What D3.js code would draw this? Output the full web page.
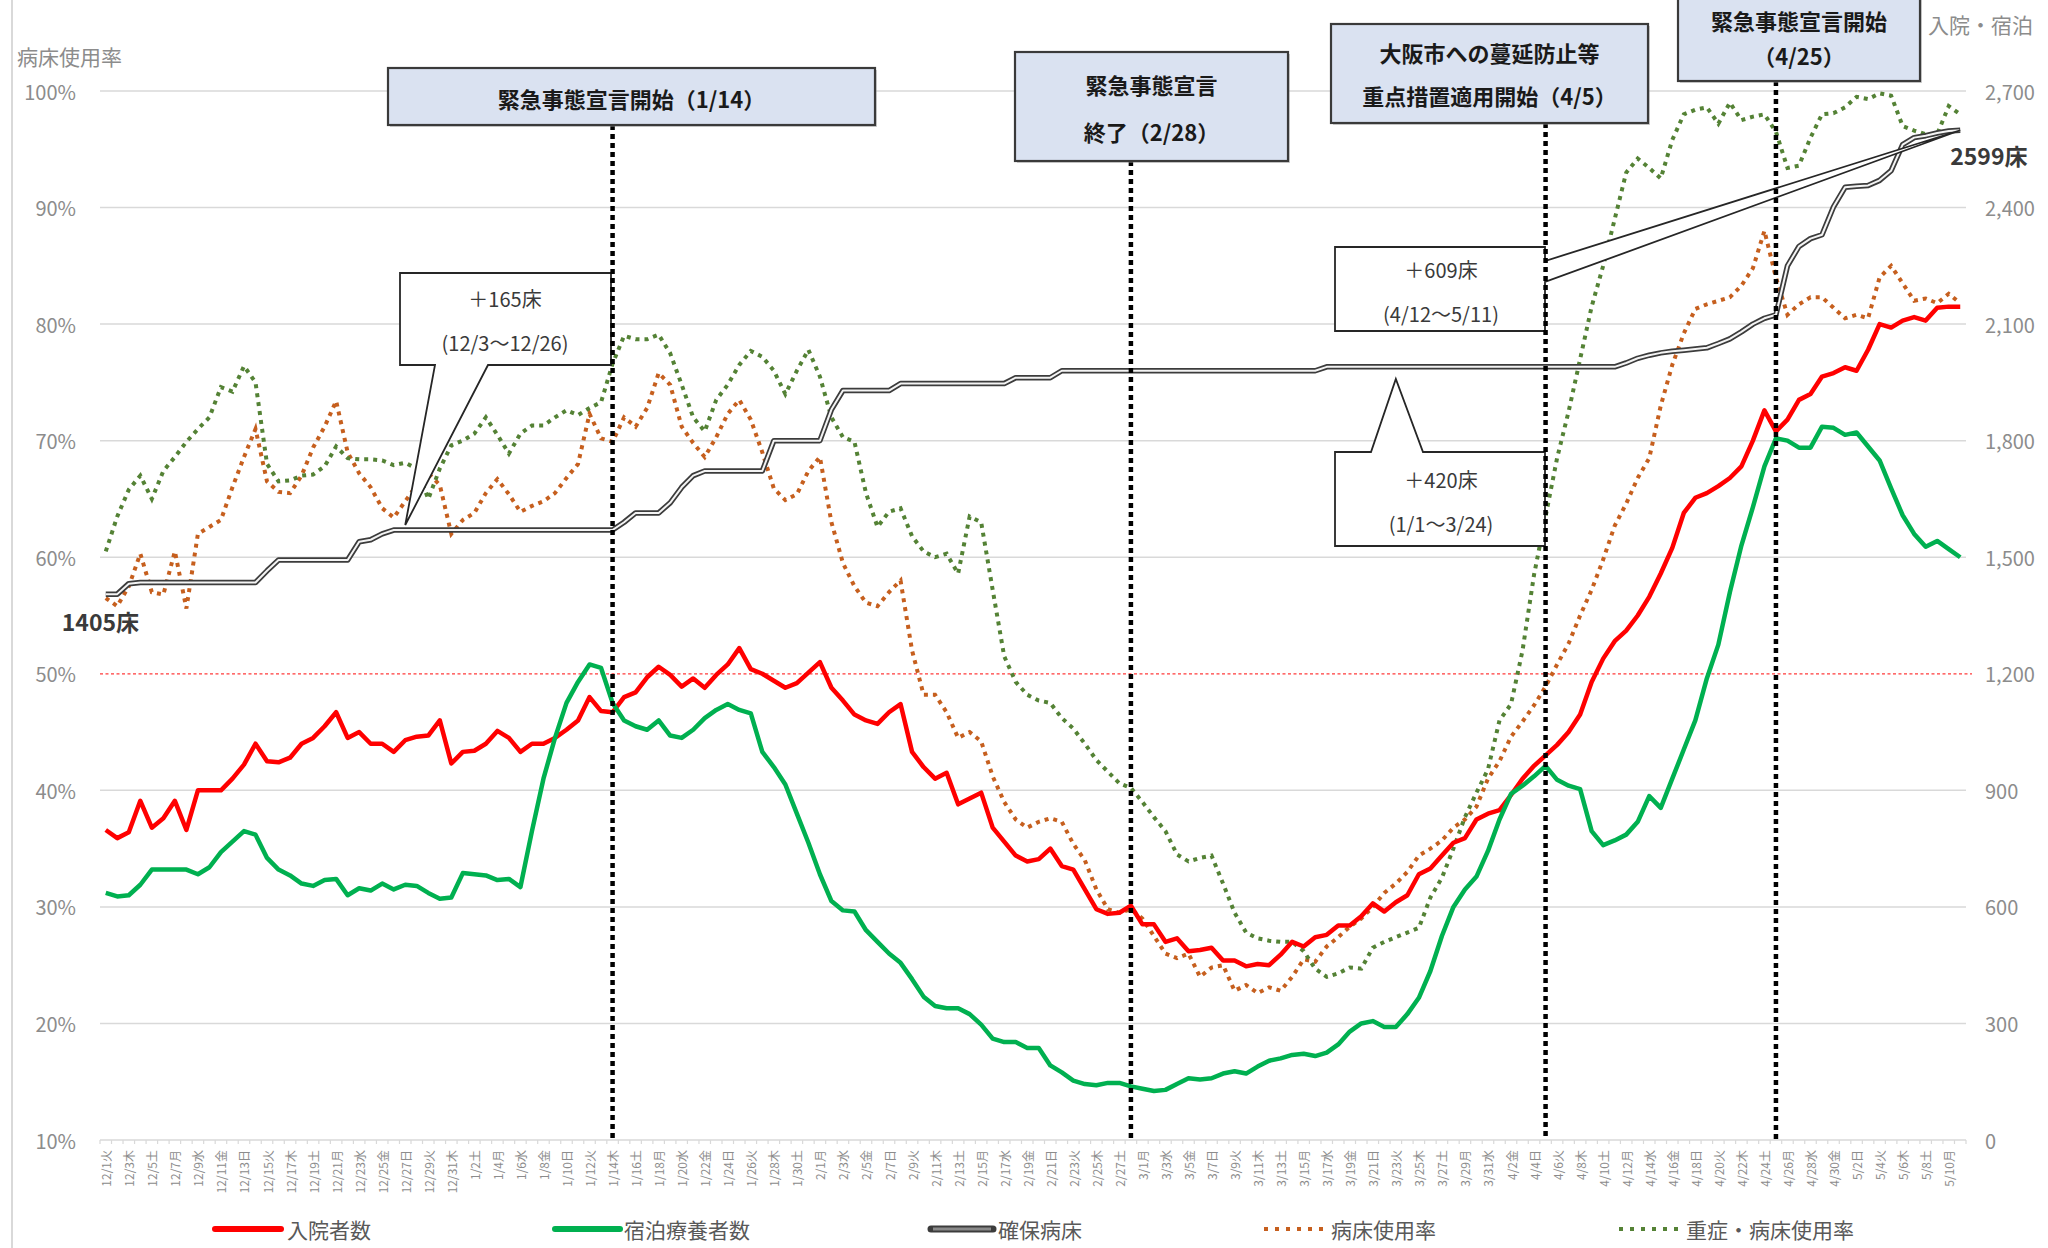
<!DOCTYPE html>
<html>
<head>
<meta charset="utf-8">
<script src="https://cdn.jsdelivr.net/npm/d3@7"></script>
<style>
  html, body { margin: 0; padding: 0; background: #ffffff; }
  svg { display: block; font-family: "Noto Sans CJK JP", "Noto Sans", sans-serif; }
</style>
</head>
<body>
<svg id="chart" width="2048" height="1248"></svg>
<script>
// ---- data -------------------------------------------------------------

// category axis labels (every other day)
const tickLabels = [
  "12/1火","12/3木","12/5土","12/7月","12/9水","12/11金","12/13日","12/15火","12/17木","12/19土",
  "12/21月","12/23水","12/25金","12/27日","12/29火","12/31木",
  "1/2土","1/4月","1/6水","1/8金","1/10日","1/12火","1/14木","1/16土","1/18月","1/20水",
  "1/22金","1/24日","1/26火","1/28木","1/30土",
  "2/1月","2/3水","2/5金","2/7日","2/9火","2/11木","2/13土","2/15月","2/17水","2/19金",
  "2/21日","2/23火","2/25木","2/27土",
  "3/1月","3/3水","3/5金","3/7日","3/9火","3/11木","3/13土","3/15月","3/17水","3/19金",
  "3/21日","3/23火","3/25木","3/27土","3/29月","3/31水",
  "4/2金","4/4日","4/6火","4/8木","4/10土","4/12月","4/14水","4/16金","4/18日","4/20火",
  "4/22木","4/24土","4/26月","4/28水","4/30金",
  "5/2日","5/4火","5/6木","5/8土","5/10月"
];

// 入院者数 (right axis, persons)
const inpatients = [
  798, 777, 792, 873, 804, 828, 873, 798, 900, 900,
  900, 930, 966,1020, 975, 972, 984,1020,1035,1065,
 1101,1035,1050,1020,1020, 999,1029,1038,1041,1080,
  969, 999,1002,1020,1053,1035, 999,1020,1020,1035,
 1056,1080,1140,1104,1101,1140,1152,1191,1218,1197,
 1167,1188,1164,1197,1224,1266,1212,1200,1182,1164,
 1176,1203,1230,1164,1131,1095,1080,1071,1101,1122,
  999, 960, 930, 945, 864, 879, 894, 804, 768, 732,
  717, 723, 750, 705, 696, 645, 594, 582, 585, 603,
  555, 555, 510, 519, 486, 489, 495, 462, 462, 447,
  453, 450, 477, 510, 498, 522, 528, 552, 552, 576,
  609, 588, 612, 630, 684, 699, 732, 765, 777, 825,
  840, 849, 888, 930, 963, 990,1017,1050,1095,1179,
 1239,1284,1311,1350,1398,1458,1524,1614,1653,1665,
 1683,1704,1734,1800,1878,1824,1854,1905,1920,1965,
 1974,1989,1980,2034,2100,2091,2109,2118,2109,2142,
 2145,2145
];

// 宿泊療養者数 (right axis, persons)
const hotelCare = [
  636, 627, 630, 657, 696, 696, 696, 696, 684, 702,
  741, 768, 795, 786, 726, 696, 681, 660, 654, 669,
  672, 630, 648, 642, 660, 645, 657, 654, 636, 621,
  624, 687, 684, 681, 669, 672, 651, 795, 930,1035,
 1125,1179,1224,1215,1125,1080,1065,1056,1080,1041,
 1035,1056,1086,1107,1122,1107,1098, 999, 960, 915,
  840, 765, 684, 615, 591, 588, 540, 510, 480, 456,
  414, 369, 345, 339, 339, 324, 297, 261, 252, 252,
  237, 237, 192, 174, 153, 144, 141, 147, 147, 138,
  132, 126, 129, 144, 159, 156, 159, 171, 177, 171,
  189, 204, 210, 219, 222, 216, 225, 246, 279, 300,
  306, 291, 291, 324, 366, 435, 525, 600, 645, 678,
  744, 825, 891, 912, 936, 963, 927, 912, 903, 795,
  759, 771, 786, 819, 885, 855, 930,1005,1080,1188,
 1275,1410,1530,1629,1734,1806,1800,1782,1782,1836,
 1833,1815,1821,1785,1749,1677,1608,1560,1527,1542,
 1521,1500
];

// 確保病床 (right axis, beds)
const securedBeds = [
 1405,1405,1432,1435,1435,1435,1435,1435,1435,1435,
 1435,1435,1435,1435,1465,1493,1493,1493,1493,1493,
 1493,1493,1540,1545,1560,1570,1570,1570,1570,1570,
 1570,1570,1570,1570,1570,1570,1570,1570,1570,1570,
 1570,1570,1570,1570,1570,1590,1614,1614,1614,1640,
 1680,1710,1722,1722,1722,1722,1722,1722,1800,1800,
 1800,1800,1800,1880,1929,1929,1929,1929,1929,1947,
 1947,1947,1947,1947,1947,1947,1947,1947,1947,1962,
 1962,1962,1962,1980,1980,1980,1980,1980,1980,1980,
 1980,1980,1980,1980,1980,1980,1980,1980,1980,1980,
 1980,1980,1980,1980,1980,1980,1990,1990,1990,1990,
 1990,1990,1990,1990,1990,1990,1990,1990,1990,1990,
 1990,1990,1990,1990,1990,1990,1990,1990,1990,1990,
 1990,1990,2000,2012,2020,2026,2030,2033,2036,2039,
 2050,2062,2080,2100,2115,2124,2250,2300,2320,2330,
 2402,2452,2455,2457,2470,2495,2562,2580,2585,2592,
 2597,2599
];

// 病床使用率 (left axis, %)
const bedOccupancy = [
 56.5,55.8,57.5,60.3,57.0,56.8,60.5,55.6,62.0,62.6,
 63.2,66.0,68.6,71.0,66.5,65.6,65.5,67.0,69.4,71.2,
 73.4,69.0,67.2,66.0,64.2,63.4,64.8,66.2,67.2,66.2,
 62.0,63.2,63.8,65.5,66.7,65.4,63.9,64.4,64.8,65.5,
 66.8,68.0,72.3,70.2,69.9,72.0,71.2,72.8,75.8,74.8,
 71.2,69.8,68.6,70.3,72.3,73.5,71.8,69.0,65.9,64.9,
 65.4,67.4,68.6,63.0,59.5,57.5,56.1,55.8,57.0,58.0,
 52.0,48.2,48.2,46.7,44.5,45.0,44.2,41.2,39.0,37.5,
 36.8,37.3,37.6,37.3,35.4,34.0,31.5,29.8,29.5,29.8,
 29.0,27.5,26.0,25.6,26.0,24.0,24.8,25.0,22.8,23.3,
 22.6,23.1,22.8,24.0,25.5,25.3,26.6,27.4,28.3,29.0,
 30.0,31.2,32.0,33.0,34.4,35.0,35.7,36.8,37.5,38.6,
 41.0,42.5,44.6,45.9,47.3,48.9,50.8,52.6,55.0,57.2,
 59.8,62.7,64.6,66.8,68.5,73.0,76.5,79.2,81.3,81.7,
 82.0,82.3,83.3,84.8,88.0,84.0,80.8,81.7,82.3,82.3,
 81.4,80.5,80.8,80.5,84.0,85.0,83.5,82.0,82.2,81.8,
 82.6,81.8
];

// 重症・病床使用率 (left axis, %)
const severeOccupancy = [
 60.5,63.5,65.8,67.0,65.0,67.4,68.6,69.9,71.0,72.0,
 74.6,74.2,76.4,75.0,68.0,66.5,66.6,67.0,67.1,67.8,
 69.5,68.5,68.4,68.4,68.3,67.9,68.1,67.6,65.0,67.6,
 69.6,70.0,70.6,72.0,70.5,68.9,70.6,71.3,71.3,72.0,
 72.6,72.2,72.8,73.3,76.6,79.0,78.7,78.7,79.1,77.5,
 74.8,72.0,70.8,73.5,74.8,76.5,77.7,77.2,76.0,74.0,
 76.0,77.8,75.5,72.0,70.3,69.9,65.5,62.6,63.9,64.2,
 61.8,60.5,60.0,60.3,58.6,63.5,63.0,57.2,51.5,49.3,
 48.2,47.7,47.5,46.2,45.3,44.0,42.6,41.6,40.6,40.2,
 39.0,37.7,36.5,34.5,33.9,34.2,34.4,32.0,29.5,27.8,
 27.3,27.1,27.0,27.0,26.2,24.7,24.0,24.3,24.8,24.7,
 26.5,27.0,27.4,27.8,28.2,30.8,32.5,35.0,37.7,39.8,
 41.8,46.0,47.4,52.0,58.5,63.5,68.5,72.5,77.0,81.5,
 85.0,89.0,93.0,94.2,93.4,92.5,95.8,98.0,98.4,98.6,
 97.2,99.0,97.5,97.8,98.0,96.5,93.4,93.6,96.0,98.0,
 98.1,98.6,99.5,99.3,99.8,99.6,97.0,96.6,96.3,96.3,
 98.7,98.0
];

const leftTicks  = [10, 20, 30, 40, 50, 60, 70, 80, 90, 100];
const rightTicks = [0, 300, 600, 900, 1200, 1500, 1800, 2100, 2400, 2700];

const eventDates  = ["1/14", "2/28", "4/5", "4/25"];
const eventLabels = [
  ["緊急事態宣言開始（1/14）"],
  ["緊急事態宣言", "終了（2/28）"],
  ["大阪市への蔓延防止等", "重点措置適用開始（4/5）"],
  ["緊急事態宣言開始", "（4/25）"]
];

// periods of bed additions: [first day, last day]
const bedPeriods = [["12/3", "12/26"], ["1/1", "3/24"], ["4/12", "5/11"]];

const legendNames = ["入院者数", "宿泊療養者数", "確保病床", "病床使用率", "重症・病床使用率"];
const axisTitles  = ["病床使用率", "入院・宿泊"];

// ---- categories: consecutive days from 2020/12/1 -----------------------
const firstDay = new Date(2020, 11, 1);
const categories = d3.range(inpatients.length).map(i => {
  const d = d3.timeDay.offset(firstDay, i);
  return (d.getMonth() + 1) + "/" + d.getDate();
});
const idx = s => categories.indexOf(s);

// ---- layout ------------------------------------------------------------
const svg = d3.select("#chart");
const plot = { left: 100, right: 1966, top: 91, bottom: 1140 };

const x = d3.scaleBand().domain(d3.range(categories.length)).range([plot.left, plot.right]);
const xc = i => x(i) + x.bandwidth() / 2;
const yL = d3.scaleLinear().domain([10, 100]).range([plot.bottom, plot.top]);
const yR = d3.scaleLinear().domain([0, 2700]).range([plot.bottom, plot.top]);

const GRID = "#d9d9d9", AXISTXT = "#8c8c8c";

// chart area edge
svg.append("line").attr("x1", 12).attr("x2", 12).attr("y1", 0).attr("y2", 1248)
  .attr("stroke", "#d9d9d9").attr("stroke-width", 2);

// gridlines
svg.append("g").selectAll("line")
  .data(leftTicks.filter(t => t !== 10 && t !== 50))
  .join("line")
  .attr("x1", plot.left).attr("x2", plot.right)
  .attr("y1", d => yL(d)).attr("y2", d => yL(d))
  .attr("stroke", GRID).attr("stroke-width", 1.5);

// category axis line with ticks
svg.append("line").attr("x1", plot.left).attr("x2", plot.right)
  .attr("y1", plot.bottom).attr("y2", plot.bottom)
  .attr("stroke", GRID).attr("stroke-width", 1.5);
svg.append("g").selectAll("line")
  .data(d3.range(categories.length + 1))
  .join("line")
  .attr("x1", d => plot.left + d * x.step()).attr("x2", d => plot.left + d * x.step())
  .attr("y1", plot.bottom).attr("y2", plot.bottom + 4)
  .attr("stroke", GRID).attr("stroke-width", 1.2);

// 50% reference line
svg.append("line").attr("x1", plot.left).attr("x2", 1972)
  .attr("y1", yL(50)).attr("y2", yL(50))
  .attr("stroke", "#ff3b3b").attr("stroke-width", 1.2).attr("stroke-dasharray", "3 2.5");

// left axis labels
svg.append("g").selectAll("text").data(leftTicks).join("text")
  .attr("x", 76).attr("y", d => yL(d))
  .attr("text-anchor", "end").attr("dominant-baseline", "central")
  .attr("font-size", 20).attr("fill", AXISTXT)
  .text(d => d + "%");

// right axis labels
svg.append("g").selectAll("text").data(rightTicks).join("text")
  .attr("x", 1985).attr("y", d => yR(d))
  .attr("text-anchor", "start").attr("dominant-baseline", "central")
  .attr("font-size", 20).attr("fill", AXISTXT)
  .text(d => d3.format(",")(d));

// axis titles
svg.append("text").attr("x", 17).attr("y", 56).attr("dominant-baseline", "central")
  .attr("font-size", 21).attr("fill", AXISTXT).text(axisTitles[0]);
svg.append("text").attr("x", 1928).attr("y", 24).attr("dominant-baseline", "central")
  .attr("font-size", 21).attr("fill", AXISTXT).text(axisTitles[1]);

// category labels (rotated)
svg.append("g").selectAll("text").data(tickLabels).join("text")
  .attr("transform", d => {
    const i = idx(d.slice(0, -1));
    return `translate(${xc(i)},${plot.bottom + 10}) rotate(-90)`;
  })
  .attr("text-anchor", "end").attr("dominant-baseline", "central")
  .attr("font-size", 12).attr("fill", AXISTXT)
  .text(d => d);

// ---- series ------------------------------------------------------------
const lineL = d3.line().x((d, i) => xc(i)).y(d => yL(d));
const lineR = d3.line().x((d, i) => xc(i)).y(d => yR(d));

const BROWN = "#c65f1e", OLIVE = "#548235", RED = "#ff0000", GREEN = "#00b050";

svg.append("path").datum(bedOccupancy).attr("d", lineL)
  .attr("fill", "none").attr("stroke", BROWN).attr("stroke-width", 4)
  .attr("stroke-dasharray", "4 5");
svg.append("path").datum(severeOccupancy).attr("d", lineL)
  .attr("fill", "none").attr("stroke", OLIVE).attr("stroke-width", 4)
  .attr("stroke-dasharray", "4 5");

svg.append("path").datum(inpatients).attr("d", lineR)
  .attr("fill", "none").attr("stroke", RED).attr("stroke-width", 4.5)
  .attr("stroke-linejoin", "round");
svg.append("path").datum(hotelCare).attr("d", lineR)
  .attr("fill", "none").attr("stroke", GREEN).attr("stroke-width", 4.5)
  .attr("stroke-linejoin", "round");

// secured beds: double line
svg.append("path").datum(securedBeds).attr("d", lineR)
  .attr("fill", "none").attr("stroke", "#3c3c3c").attr("stroke-width", 5.5)
  .attr("stroke-linejoin", "round");
svg.append("path").datum(securedBeds).attr("d", lineR)
  .attr("fill", "none").attr("stroke", "#f4f4f4").attr("stroke-width", 2)
  .attr("stroke-linejoin", "round");

// first / last secured-bed values
const nLast = securedBeds.length - 1;
svg.append("text").attr("x", xc(0) - 44).attr("y", yR(securedBeds[0]) + 27)
  .attr("dominant-baseline", "central").attr("font-size", 23).attr("font-weight", 600)
  .attr("fill", "#3a3a3a").text(securedBeds[0] + "床");
svg.append("text").attr("x", xc(nLast) - 10).attr("y", yR(securedBeds[nLast]) + 25)
  .attr("dominant-baseline", "central").attr("font-size", 23).attr("font-weight", 600)
  .attr("fill", "#3a3a3a").text(securedBeds[nLast] + "床");

// ---- bed-addition callouts ----------------------------------------------
const bedGain = bedPeriods.map(([a, b]) => securedBeds[idx(b)] - securedBeds[idx(a) - 1]);

function callout(pathD, cx, cy, lines) {
  const g = svg.append("g");
  g.append("path").attr("d", pathD).attr("fill", "#ffffff")
    .attr("stroke", "#262626").attr("stroke-width", 1.8).attr("stroke-linejoin", "miter");
  lines.forEach((t, k) => {
    g.append("text").attr("x", cx).attr("y", cy + k * 44)
      .attr("text-anchor", "middle").attr("dominant-baseline", "central")
      .attr("font-size", 20).attr("fill", "#3a3a3a").text(t);
  });
}
const label = (k) => ["＋" + bedGain[k] + "床", "(" + bedPeriods[k][0] + "～" + bedPeriods[k][1] + ")"];

// 12/3～12/26: pointer from bottom edge down to the line
{
  const tx = xc(26), ty = yR(securedBeds[26]) - 5;
  callout(`M400,273 H611 V365 H488 L${tx},${ty} L435,365 H400 Z`, 505, 298, label(0));
}
// 4/12～5/11: long wedge from right edge to the line end
{
  const tx = xc(nLast), ty = yR(securedBeds[nLast]);
  callout(`M1335,247 H1545 V261 L${tx},${ty} L1545,282 V331 H1335 Z`, 1441, 269, label(2));
}
// 1/1～3/24: pointer from top edge up to the line
{
  const tx = xc(112), ty = yR(securedBeds[112]) + 12;
  callout(`M1335,452 H1371 L${tx},${ty} L1423,452 H1545 V546 H1335 Z`, 1441, 479, label(1));
}

// ---- event markers --------------------------------------------------------
const boxes = [
  { x0: 388,  x1: 875,  y0: 68,  y1: 125, ty: [98] },
  { x0: 1015, x1: 1288, y0: 52,  y1: 161, ty: [84, 131] },
  { x0: 1331, x1: 1648, y0: 24,  y1: 123, ty: [52, 95] },
  { x0: 1678, x1: 1920, y0: -10, y1: 81,  ty: [20, 55] }
];

eventDates.forEach((d, k) => {
  const b = boxes[k];
  const xe = xc(idx(d));
  svg.append("line").attr("x1", xe).attr("x2", xe).attr("y1", b.y1).attr("y2", plot.bottom)
    .attr("stroke", "#000").attr("stroke-width", 4.5).attr("stroke-dasharray", "5 4");
  svg.append("rect").attr("x", b.x0 + 2).attr("y", b.y0 + 2)
    .attr("width", b.x1 - b.x0).attr("height", b.y1 - b.y0)
    .attr("fill", "#9a9a9a").attr("opacity", 0.45);
  svg.append("rect").attr("x", b.x0).attr("y", b.y0)
    .attr("width", b.x1 - b.x0).attr("height", b.y1 - b.y0)
    .attr("fill", "#dae2f1").attr("stroke", "#3a3a3a").attr("stroke-width", 2.2);
  eventLabels[k].forEach((t, j) => {
    svg.append("text").attr("x", (b.x0 + b.x1) / 2).attr("y", b.ty[j])
      .attr("text-anchor", "middle").attr("dominant-baseline", "central")
      .attr("font-size", 22).attr("font-weight", 700).attr("fill", "#1a1a1a").text(t);
  });
});

// ---- legend ---------------------------------------------------------------
const legendY = 1229;
const legendItems = [
  { x0: 215,  x1: 281,  tx: 287,  type: "solid",  color: RED },
  { x0: 555,  x1: 620,  tx: 624,  type: "solid",  color: GREEN },
  { x0: 931,  x1: 993,  tx: 998,  type: "double", color: "#5a5a5a" },
  { x0: 1264, x1: 1326, tx: 1331, type: "dot",    color: BROWN },
  { x0: 1619, x1: 1682, tx: 1686, type: "dot",    color: OLIVE }
];
legendItems.forEach((it, k) => {
  const g = svg.append("g");
  if (it.type === "solid") {
    g.append("line").attr("x1", it.x0).attr("x2", it.x1).attr("y1", legendY).attr("y2", legendY)
      .attr("stroke", it.color).attr("stroke-width", 6).attr("stroke-linecap", "round");
  } else if (it.type === "double") {
    g.append("line").attr("x1", it.x0).attr("x2", it.x1).attr("y1", legendY).attr("y2", legendY)
      .attr("stroke", "#3c3c3c").attr("stroke-width", 7).attr("stroke-linecap", "round");
    g.append("line").attr("x1", it.x0 + 2).attr("x2", it.x1 - 2).attr("y1", legendY).attr("y2", legendY)
      .attr("stroke", "#8a8a8a").attr("stroke-width", 3);
  } else {
    g.append("line").attr("x1", it.x0).attr("x2", it.x1).attr("y1", legendY).attr("y2", legendY)
      .attr("stroke", it.color).attr("stroke-width", 4).attr("stroke-dasharray", "4 7");
  }
  g.append("text").attr("x", it.tx).attr("y", legendY).attr("dominant-baseline", "central")
    .attr("font-size", 21).attr("fill", "#595959").text(legendNames[k]);
});
</script>
</body>
</html>
